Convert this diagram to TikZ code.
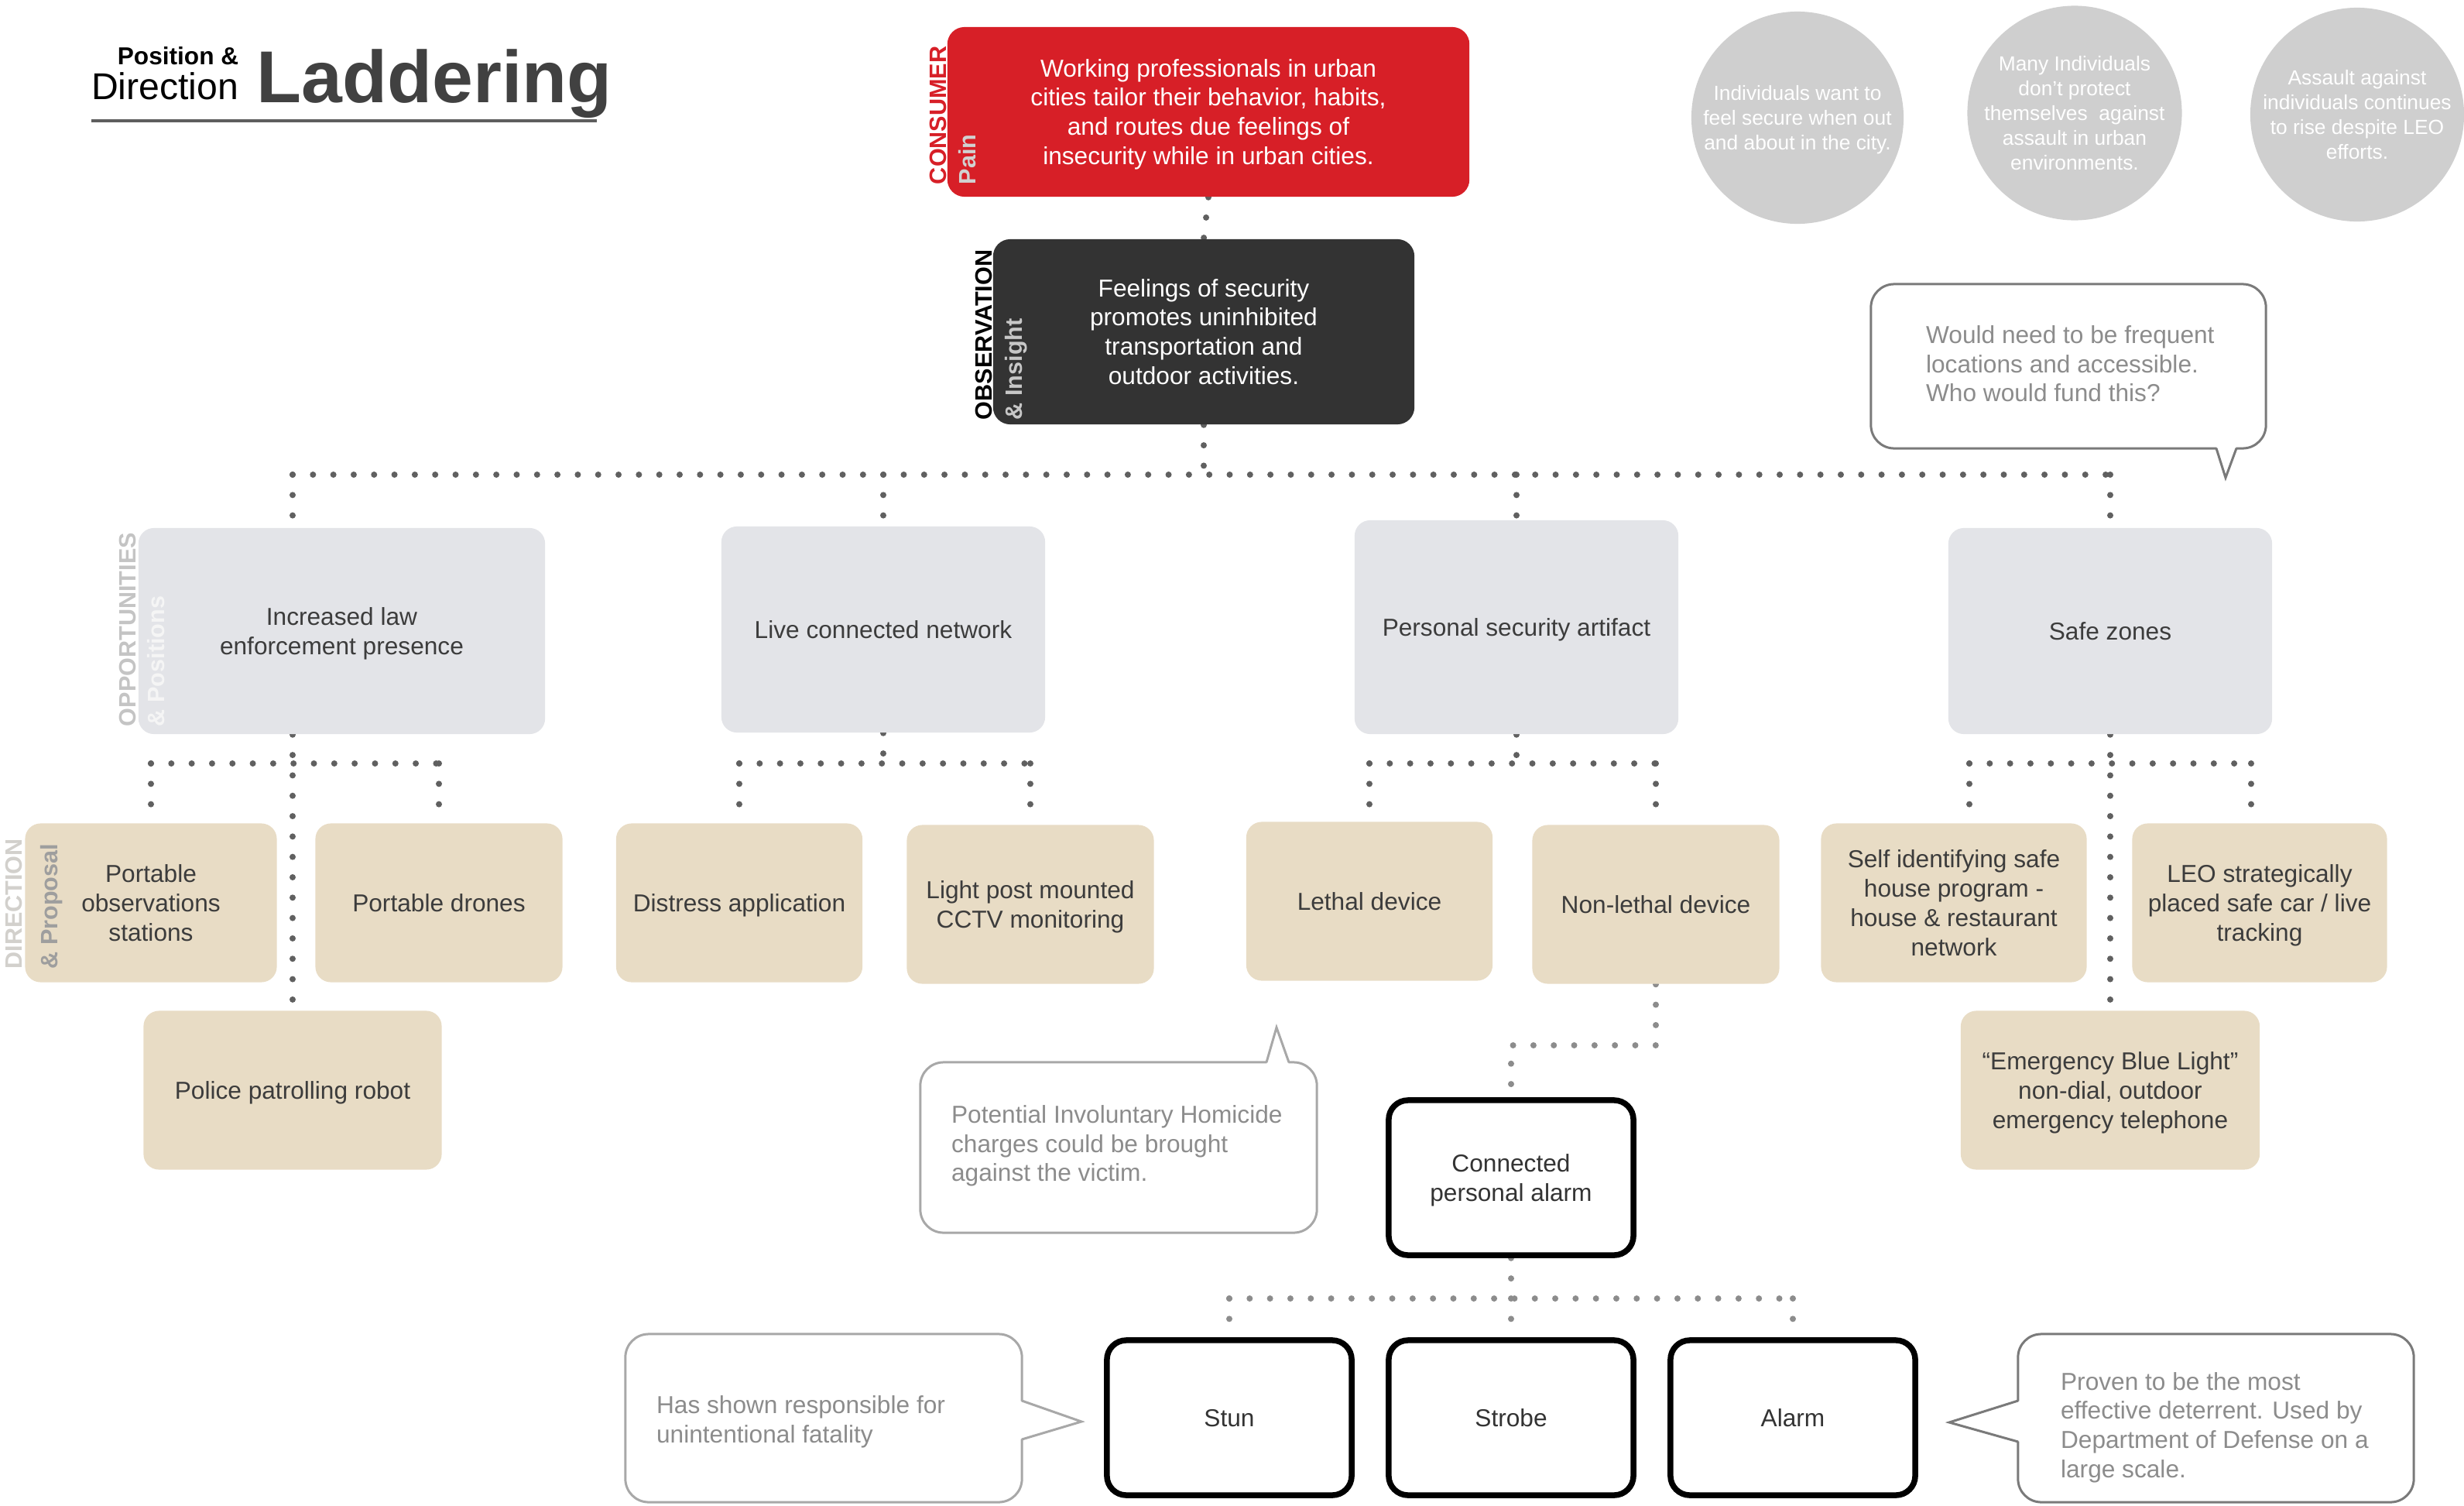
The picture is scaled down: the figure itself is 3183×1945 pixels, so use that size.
\documentclass[tikz,border=0pt]{standalone}
\usepackage{fontspec}
\setmainfont{Liberation Sans}
\usetikzlibrary{positioning, backgrounds, calc}
\definecolor{painred}{HTML}{D71F27}
\definecolor{insightgray}{HTML}{333333}
\definecolor{optgray}{HTML}{E3E4E8}
\definecolor{dirbeige}{HTML}{E8DCC5}
\definecolor{inkgray}{HTML}{3C3C3C}
\definecolor{titlegray}{HTML}{414141}
\definecolor{dotgray}{HTML}{606060}
\definecolor{dotlight}{HTML}{8C8C8C}
\definecolor{notegray}{HTML}{8C8C8C}
\definecolor{bubblegray}{HTML}{7A7A7A}
\definecolor{softgray}{HTML}{A8A8A8}
\definecolor{circgray}{HTML}{CFCFCF}

\begin{document}
\begin{tikzpicture}[x=0.01cm, y=0.01cm,
  box/.style={rectangle, rounded corners=0.2cm, align=center, inner sep=0, text depth=0pt, font=\fontsize{9}{10.8}\selectfont, text=inkgray},
  optbox/.style={box, fill=optgray, minimum width=4.18cm, minimum height=2.66cm},
  dirbox/.style={box, fill=dirbeige, minimum width=3.2cm, minimum height=2.05cm},
  alarmbox/.style={box, draw=black, line width=0.075cm, fill=white, rounded corners=0.25cm, text=insightgray, minimum width=3.16cm, minimum height=2.0cm},
  headbox/.style={box, text=white, rounded corners=0.22cm},
  sidelabel/.style={rotate=90, inner sep=0, font=\fontsize{8.7}{10}\selectfont\bfseries},
  bubble/.style={circle, fill=circgray, minimum size=2.74cm, inner sep=0, text depth=0pt, align=center, text=white, font=\fontsize{7.5}{9.1}\selectfont},
  notebox/.style={rectangle, draw=bubblegray, line width=0.03cm, rounded corners=0.3cm, fill=white},
  notetext/.style={inner sep=0, align=left, text=notegray, font=\fontsize{9}{10.7}\selectfont},
  dotline/.style={draw=dotgray, line width=0.08cm, line cap=round, dash pattern=on 0pt off 0.263cm}]

\useasboundingbox (0,0) rectangle (3183,-1945);

% title
\node[anchor=base west, inner sep=0, font=\fontsize{27}{30}\selectfont\bfseries, text=titlegray] (title) at (331,-132) {Laddering};
\node[anchor=base east, inner sep=0, font=\fontsize{13.7}{15}\selectfont] (dirhead) at (309,-128) {Direction};
\node[anchor=base east, inner sep=0, font=\fontsize{9}{10}\selectfont\bfseries] (poshead) at (309,-83) {Position \&};
\draw[titlegray!85, line width=0.04cm] (118,-156) -- (771,-156);

% pain and insight
\node[headbox, fill=painred, minimum width=6.74cm, minimum height=2.19cm] (pain) at (1561,-144.5) {Working professionals in urban\\cities tailor their behavior, habits,\\and routes due feelings of\\insecurity while in urban cities.};
\node[headbox, fill=insightgray, minimum width=5.44cm, minimum height=2.39cm] (insight) at (1555,-428.5) {Feelings of security\\promotes uninhibited\\transportation and\\outdoor activities.};
\node[sidelabel, anchor=south west, text=painred] (consumerlbl) at ([yshift=0.16cm]pain.south west) {CONSUMER};
\node[sidelabel, anchor=north west, text=black!18] (painlbl) at ([xshift=0.15cm, yshift=0.16cm]pain.south west) {Pain};
\node[sidelabel, anchor=south west, text=black] (observlbl) at ([yshift=0.06cm]insight.south west) {OBSERVATION};
\node[sidelabel, anchor=north west, text=black!22] (insightlbl) at ([xshift=0.15cm, yshift=0.06cm]insight.south west) {\& Insight};

% consumer beliefs
\node[bubble] (wantcirc) at (2322,-152) {Individuals want to\\feel secure when out\\and about in the city.};
\node[bubble, minimum size=2.77cm] (protectcirc) at (2680,-146) {Many Individuals\\don’t protect\\themselves\ \ against\\assault in urban\\environments.};
\node[bubble, minimum size=2.76cm] (assaultcirc) at (3045,-148) {Assault against\\individuals continues\\to rise despite LEO\\efforts.};

% opportunities
\node[optbox, minimum width=5.25cm] (lawopt) at (441.5,-815) {Increased law\\enforcement presence};
\node[optbox] (netopt) at (1141,-813) {Live connected network};
\node[optbox, minimum height=2.76cm] (artopt) at (1959,-810) {Personal security artifact};
\node[optbox] (zoneopt) at (2726,-815) {Safe zones};
\node[sidelabel, anchor=south west, text=black!23] (opplbl) at ([xshift=-0.02cm, yshift=0.1cm]lawopt.south west) {OPPORTUNITIES};
\node[sidelabel, anchor=north west, text=white!96!black] (poslbl) at ([xshift=0.11cm, yshift=0.1cm]lawopt.south west) {\& Positions};

% directions
\node[dirbox, minimum width=3.25cm] (obsdir) at (195,-1166) {Portable\\observations\\stations};
\node[dirbox, minimum width=3.19cm] (dronedir) at (567,-1166) {Portable drones};
\node[dirbox, minimum width=3.85cm] (robotdir) at (378,-1408) {Police patrolling robot};
\node[dirbox, minimum width=3.18cm] (distressdir) at (955,-1166) {Distress application};
\node[dirbox, minimum width=3.19cm] (cctvdir) at (1331,-1168) {Light post mounted\\CCTV monitoring};
\node[dirbox, minimum width=3.18cm] (lethaldir) at (1769,-1164) {Lethal device};
\node[dirbox, minimum width=3.19cm] (nonlethaldir) at (2139,-1168) {Non-lethal device};
\node[dirbox, minimum width=3.43cm] (housedir) at (2524,-1166) {Self identifying safe\\house program -\\house \& restaurant\\network};
\node[dirbox, minimum width=3.29cm] (leodir) at (2919,-1166) {LEO strategically\\placed safe car / live\\tracking};
\node[dirbox, minimum width=3.86cm] (bluedir) at (2726,-1408) {“Emergency Blue Light”\\non-dial, outdoor\\emergency telephone};
\node[sidelabel, anchor=south west, text=dirbeige!55!black!35] (directlbl) at ([xshift=-0.02cm, yshift=0.17cm]obsdir.south west) {DIRECTION};
\node[sidelabel, anchor=north west, text=black!38] (proplbl) at ([xshift=0.2cm, yshift=0.17cm]obsdir.south west) {\& Proposal};

% personal alarm
\node[alarmbox] (personal) at (1952,-1521) {Connected\\personal alarm};
\node[alarmbox] (stun) at (1588,-1831) {Stun};
\node[alarmbox] (strobe) at (1952,-1831) {Strobe};
\node[alarmbox] (siren) at (2316,-1831) {Alarm};

% notes
\node[notebox, minimum width=5.1cm, minimum height=2.12cm] (fundbox) at (2672,-473) {};
\node[notetext, anchor=west] (fundnote) at ([xshift=0.72cm, yshift=0.03cm]fundbox.west) {Would need to be frequent\\locations and accessible.\\Who would fund this?};
\fill[white] (2863,-576) -- (2875,-617) -- (2889,-576) -- cycle;
\draw[bubblegray, line width=0.03cm] (2863,-579) -- (2875,-617) -- (2889,-579);

\node[notebox, draw=softgray, minimum width=5.12cm, minimum height=2.2cm] (homicidebox) at (1445,-1482) {};
\node[notetext, anchor=west] (homicidenote) at ([xshift=0.41cm, yshift=0.02cm]homicidebox.west) {Potential Involuntary Homicide\\charges could be brought\\against the victim.};
\fill[white] (1636,-1375) -- (1649,-1327) -- (1665,-1375) -- cycle;
\draw[softgray, line width=0.03cm] (1636,-1372) -- (1649,-1327) -- (1665,-1372);

\node[notebox, draw=softgray, minimum width=5.12cm, minimum height=2.17cm] (fatalbox) at (1064,-1831.5) {};
\node[notetext, anchor=west] (fatalnote) at ([xshift=0.41cm, yshift=-0.05cm]fatalbox.west) {Has shown responsible for\\unintentional fatality};
\fill[white] (1317,-1809) -- (1397,-1836) -- (1317,-1859) -- cycle;
\draw[softgray, line width=0.03cm] (1320,-1809) -- (1397,-1836) -- (1320,-1859);

\node[notebox, minimum width=5.11cm, minimum height=2.17cm] (provenbox) at (2862.5,-1831.5) {};
\node[notetext, anchor=west] (provennote) at ([xshift=0.56cm, yshift=-0.12cm]provenbox.west) {Proven to be the most\\effective deterrent. Used by\\Department of Defense on a\\large scale.};
\fill[white] (2610,-1809) -- (2518,-1837) -- (2610,-1862) -- cycle;
\draw[bubblegray, line width=0.03cm] (2607,-1809) -- (2518,-1837) -- (2607,-1862);

% connectors
\coordinate (mainlevel) at (0,-613);
\coordinate (lowlevel) at (0,-986);
\coordinate (bendlevel) at (0,-1350);
\coordinate (alarmlevel) at (0,-1677);
\begin{scope}[on background layer]
\draw[dotline] (pain.south) -- (insight.north);
\draw[dotline] (insight.south) -- (insight.south |- mainlevel);
\draw[dotline] (robotdir.north |- mainlevel) -- (zoneopt.north |- mainlevel);
\draw[dotline] (robotdir.north |- mainlevel) -- (robotdir.north |- lawopt.north);
\draw[dotline] (netopt.north |- mainlevel) -- (netopt.north);
\draw[dotline] (artopt.north |- mainlevel) -- (artopt.north);
\draw[dotline] (zoneopt.north |- mainlevel) -- (zoneopt.north);
% law enforcement
\draw[dotline] (robotdir.north |- lawopt.south) -- (robotdir.north);
\draw[dotline] (obsdir.north |- lowlevel) -- (dronedir.north |- lowlevel);
\draw[dotline] (obsdir.north |- lowlevel) -- (obsdir.north);
\draw[dotline] (dronedir.north |- lowlevel) -- (dronedir.north);
% network
\draw[dotline] (netopt.south) -- (netopt.south |- lowlevel);
\draw[dotline] (distressdir.north |- lowlevel) -- (cctvdir.north |- lowlevel);
\draw[dotline] (distressdir.north |- lowlevel) -- (distressdir.north);
\draw[dotline] (cctvdir.north |- lowlevel) -- (cctvdir.north);
% artifact
\draw[dotline] (artopt.south) -- (artopt.south |- lowlevel);
\draw[dotline] (lethaldir.north |- lowlevel) -- (nonlethaldir.north |- lowlevel);
\draw[dotline] (lethaldir.north |- lowlevel) -- (lethaldir.north);
\draw[dotline] (nonlethaldir.north |- lowlevel) -- (nonlethaldir.north);
\draw[dotline, draw=dotlight] (nonlethaldir.south) |- (personal.north |- bendlevel) -- (personal.north);
\draw[dotline, draw=dotlight] (personal.south) -- (personal.south |- alarmlevel);
\draw[dotline, draw=dotlight] (stun.north |- alarmlevel) -- (siren.north |- alarmlevel);
\draw[dotline, draw=dotlight] (stun.north |- alarmlevel) -- (stun.north);
\draw[dotline, draw=dotlight] (strobe.north |- alarmlevel) -- (strobe.north);
\draw[dotline, draw=dotlight] (siren.north |- alarmlevel) -- (siren.north);
% safe zones
\draw[dotline] (zoneopt.south) -- (zoneopt.south |- bluedir.north);
\draw[dotline] ([xshift=0.2cm]housedir.north |- lowlevel) -- ([xshift=-0.11cm]leodir.north |- lowlevel);
\draw[dotline] ([xshift=0.2cm]housedir.north |- lowlevel) -- ([xshift=0.2cm]housedir.north);
\draw[dotline] ([xshift=-0.11cm]leodir.north |- lowlevel) -- ([xshift=-0.11cm]leodir.north);
\end{scope}
\end{tikzpicture}
\end{document}
